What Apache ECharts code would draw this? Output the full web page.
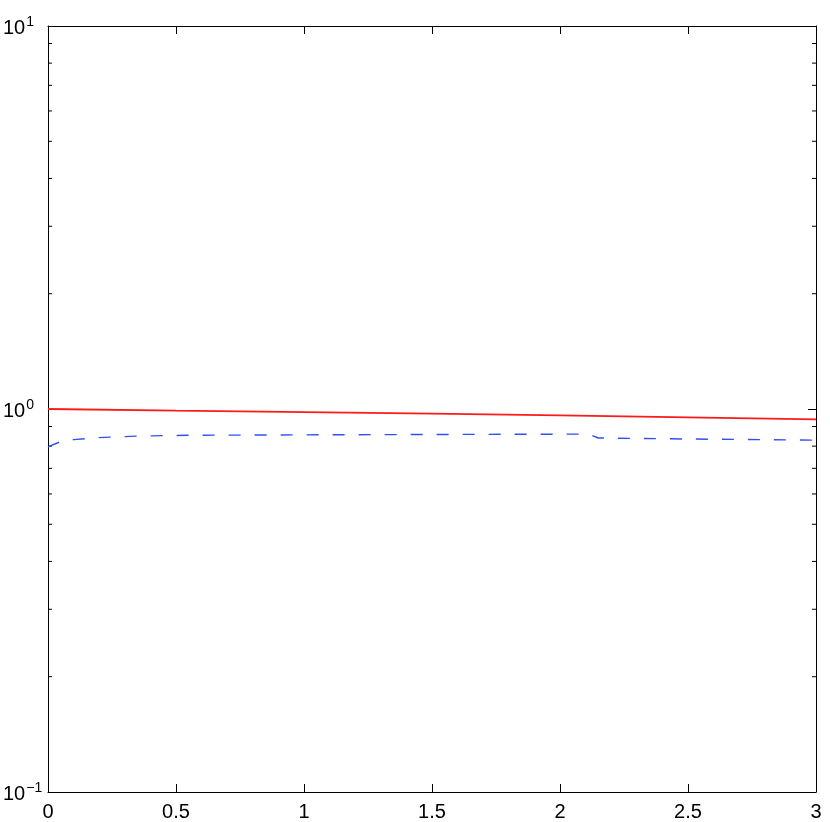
<!DOCTYPE html>
<html>
<head>
<meta charset="utf-8">
<script src="https://cdn.jsdelivr.net/npm/echarts@6/dist/echarts.min.js"></script>
<style>
html,body{margin:0;padding:0;background:#fff;}
#chart{width:830px;height:822px;}
</style>
</head>
<body>
<div id="chart"></div>
<script>
// Data
var redX = [0, 0.5, 1, 1.5, 2, 2.5, 3];
var redY = [1.0, 0.990, 0.981, 0.972, 0.962, 0.951, 0.940];

var blueX = [0, 0.047, 0.1, 0.2, 0.36, 0.55, 1.0, 1.5, 2.11, 2.15, 2.5, 3];
var blueY = [0.796, 0.821, 0.832, 0.842, 0.850, 0.854, 0.856, 0.858, 0.860, 0.840, 0.835, 0.829];

var xTicks = [0, 0.5, 1, 1.5, 2, 2.5, 3];
var yMajorTicks = [0.1, 1, 10];
var yMinorTicks = [0.2, 0.3, 0.4, 0.5, 0.6, 0.7, 0.8, 0.9, 2, 3, 4, 5, 6, 7, 8, 9];

function pairs(xs, ys) { return xs.map(function (x, i) { return [x, ys[i]]; }); }

var FONT = 'Liberation Sans, Arial, Helvetica, sans-serif';
var AX = '#000';

function yLabel(v) {
  var e = Math.round(Math.log10(v));
  var s = e < 0 ? '\u2212' + (-e) : String(e);
  return '{b|10}{s|' + s + '}';
}

var chart = echarts.init(document.getElementById('chart'), null, {renderer: 'canvas'});
chart.setOption({
  animation: false,
  backgroundColor: '#fff',
  grid: {left: 48, top: 26, width: 768, height: 768, containLabel: false},
  xAxis: [{
    type: 'value', min: 0, max: 3, interval: 0.5, position: 'bottom',
    axisLine: {show: true, onZero: false, lineStyle: {color: AX, width: 1}},
    axisTick: {show: true, inside: true, length: 8, lineStyle: {color: AX}},
    axisLabel: {show: true, margin: 10, color: '#000', fontSize: 20, fontFamily: FONT,
      formatter: function (v) { return String(v); }},
    splitLine: {show: false}
  }, {
    type: 'value', min: 0, max: 3, interval: 0.5, position: 'top',
    axisLine: {show: true, onZero: false, lineStyle: {color: AX, width: 1}},
    axisTick: {show: true, inside: true, length: 8, lineStyle: {color: AX}},
    axisLabel: {show: false},
    splitLine: {show: false}
  }],
  yAxis: [{
    type: 'log', logBase: 10, min: 0.1, max: 10, position: 'left',
    axisLine: {show: true, onZero: false, lineStyle: {color: AX, width: 1}},
    axisTick: {show: true, inside: true, length: 8, lineStyle: {color: AX}},
    axisLabel: {show: true, margin: 45, align: 'left', color: '#000', fontFamily: FONT,
      formatter: yLabel,
      rich: {
        b: {fontSize: 20, fontFamily: FONT, color: '#000', lineHeight: 22, padding: [4, 0, 0, 0]},
        s: {fontSize: 14, fontFamily: FONT, color: '#000', verticalAlign: 'top', lineHeight: 16, padding: [0, 0, 10, 1]}
      }},
    splitLine: {show: false}
  }, {
    type: 'log', logBase: 10, min: 0.1, max: 10, position: 'right',
    axisLine: {show: true, onZero: false, lineStyle: {color: AX, width: 1}},
    axisTick: {show: true, inside: true, length: 8, lineStyle: {color: AX}},
    axisLabel: {show: false},
    splitLine: {show: false}
  }],
  series: [{
    type: 'custom',
    xAxisIndex: 0, yAxisIndex: 0,
    silent: true,
    clip: false,
    data: yMinorTicks.map(function (v) { return [0, v]; }),
    renderItem: function (params, api) {
      var v = api.value(1);
      var l = api.coord([0, v]);
      var r = api.coord([3, v]);
      var st = {stroke: AX, lineWidth: 1};
      return {
        type: 'group',
        children: [
          {type: 'line', shape: {x1: l[0], y1: l[1], x2: l[0] + 4, y2: l[1]}, style: st},
          {type: 'line', shape: {x1: r[0] - 4, y1: r[1], x2: r[0], y2: r[1]}, style: st}
        ]
      };
    }
  }, {
    type: 'line', xAxisIndex: 0, yAxisIndex: 0,
    data: pairs(redX, redY),
    showSymbol: false, symbol: 'none', smooth: false,
    lineStyle: {color: '#ff1a1a', width: 1.8}
  }, {
    type: 'line', xAxisIndex: 0, yAxisIndex: 0,
    data: pairs(blueX, blueY),
    showSymbol: false, symbol: 'none', smooth: false,
    lineStyle: {color: '#2f4fff', width: 1.4, type: [12, 14]}
  }]
});
</script>
</body>
</html>
